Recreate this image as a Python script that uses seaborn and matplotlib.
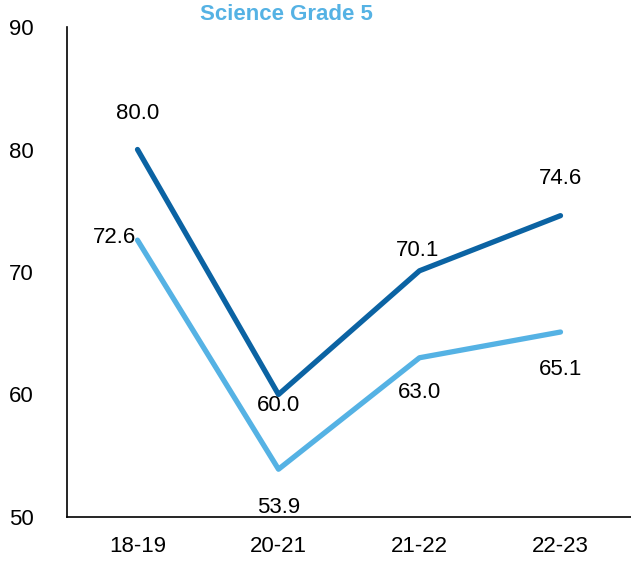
import numpy as np
import pandas as pd

import seaborn as sns
import matplotlib
matplotlib.use('Agg')
import matplotlib.pyplot as plt

# chart values
years = ['18-19', '20-21', '21-22', '22-23']
series_a = [80.0, 60.0, 70.1, 74.6]   # dark line
series_b = [72.6, 53.9, 63.0, 65.1]   # light line

dark = '#0b63a3'
light = '#55b2e4'

sns.set_theme(style='white')
plt.rcParams['font.family'] = ['Liberation Sans', 'DejaVu Sans']

df = pd.DataFrame({
    'year': years * 2,
    'score': series_a + series_b,
    'group': ['a'] * 4 + ['b'] * 4,
})

fig = plt.figure(figsize=(6.31, 5.65), dpi=100)
ax = fig.add_axes([67 / 631, 48 / 565, 564 / 631, 490 / 565])

sns.lineplot(data=df, x='year', y='score', hue='group', hue_order=['a', 'b'],
             palette=[dark, light], linewidth=3.8, legend=False, ax=ax, sort=False)

ax.set_xlim(-0.5, 3.5)
ax.set_ylim(50, 90)
ax.set_yticks([50, 60, 70, 80, 90])
ax.set_xlabel('')
ax.set_ylabel('')
ax.tick_params(axis='both', labelsize=16, length=0, colors='black')
ax.tick_params(axis='x', pad=14)
ax.tick_params(axis='y', pad=24)

sns.despine(ax=ax)
ax.spines['left'].set_color('black')
ax.spines['bottom'].set_color('black')
ax.spines['left'].set_linewidth(1.2)
ax.spines['bottom'].set_linewidth(1.2)

# label offsets in pixels (x, y)
offs_a = [(0, 36), (0, -11), (-2, 20), (0, 37)]
offs_b = [(-23, 3), (0, -38), (0, -35), (0, -37)]
for vals, offs in [(series_a, offs_a), (series_b, offs_b)]:
    for i, (v, o) in enumerate(zip(vals, offs)):
        ax.annotate('{:.1f}'.format(v), (i, v), xytext=o, textcoords='offset pixels',
                    ha='center', va='center', fontsize=16, color='black')

fig.text(286 / 631, 1 - 15 / 565, 'Science Grade 5', ha='center', va='center',
         fontsize=16, fontweight='bold', color=light)

plt.savefig('out.png', dpi=100)
